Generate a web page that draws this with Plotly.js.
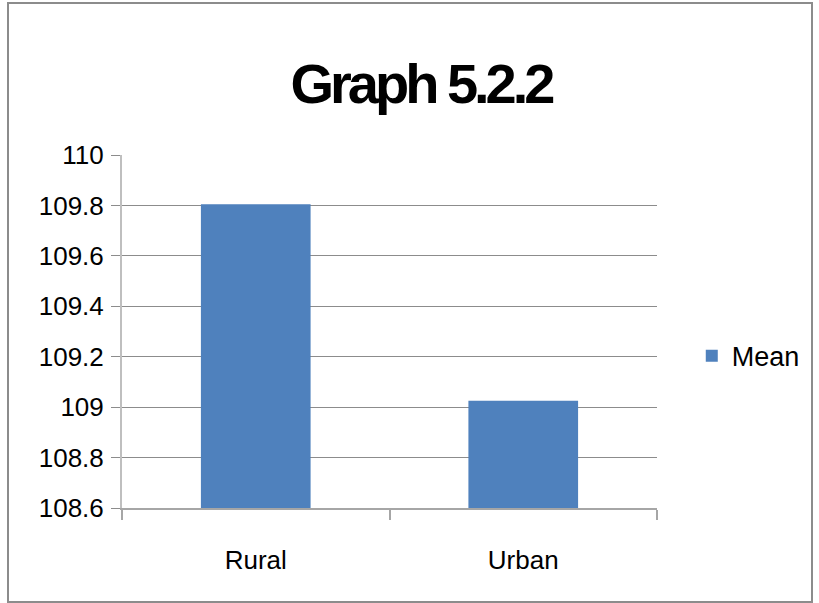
<!DOCTYPE html>
<html>
<head>
<meta charset="utf-8">
<script src="https://cdn.plot.ly/plotly-3.0.1.min.js"></script>
<style>
html,body{margin:0;padding:0;background:#fff;}
#wrap{position:relative;width:819px;height:603px;}
#chart{position:absolute;left:0;top:0;width:819px;height:603px;}
#frame{position:absolute;left:7px;top:2px;width:802px;height:597px;border:2px solid #8c8c8c;pointer-events:none;}
#chart .gtitle{letter-spacing:-4px;}
</style>
</head>
<body>
<div id="wrap"><div id="chart"></div><div id="frame"></div></div>
<script>
const categories = ["Rural", "Urban"];
const meanValues = [109.805, 109.025];
const seriesName = "Mean";
const yTickValues = [108.6, 108.8, 109, 109.2, 109.4, 109.6, 109.8, 110];
const yTickLabels = ["108.6", "108.8", "109", "109.2", "109.4", "109.6", "109.8", "110"];
const chartTitle = "Graph 5.2.2";

const font = "'Liberation Sans', Arial, sans-serif";

const trace = {
  type: "bar",
  x: categories,
  y: meanValues,
  name: seriesName,
  width: 0.41,
  marker: {color: "#4F81BD"},
  showlegend: true
};

const layout = {
  width: 819, height: 603,
  margin: {l: 122, r: 162, t: 155, b: 95, pad: 0, autoexpand: false},
  paper_bgcolor: "#fff", plot_bgcolor: "#fff",
  font: {family: font, color: "#000"},
  title: {text: "<b>" + chartTitle + "</b>", x: 0.514, xanchor: "center", y: 0.862, yanchor: "middle",
          font: {size: 56, family: font, color: "#000"}},
  xaxis: {
    type: "category",
    showline: true, linecolor: "#a6a6a6", linewidth: 2,
    ticks: "outside", tickson: "boundaries", ticklen: 10, tickcolor: "#a6a6a6", tickwidth: 2,
    tickfont: {size: 26, family: font, color: "#000"},
    ticklabelstandoff: 28,
    showgrid: false, zeroline: false, fixedrange: true
  },
  yaxis: {
    range: [108.6, 110],
    tickmode: "array", tickvals: yTickValues, ticktext: yTickLabels,
    showline: true, linecolor: "#bfbfbf", linewidth: 2,
    ticks: "outside", ticklen: 9, tickcolor: "#8c8c8c", tickwidth: 1,
    showgrid: true, gridcolor: "#8c8c8c", gridwidth: 1,
    tickfont: {size: 26, family: font, color: "#000"},
    ticklabelstandoff: 2,
    zeroline: false, fixedrange: true
  },
  legend: {
    x: 1.065, xanchor: "left", y: 0.43, yanchor: "middle",
    font: {size: 27, family: font, color: "#000"},
    itemwidth: 30, bgcolor: "rgba(0,0,0,0)"
  },
  showlegend: true
};

Plotly.newPlot("chart", [trace], layout, {displayModeBar: false, staticPlot: true});
</script>
</body>
</html>
